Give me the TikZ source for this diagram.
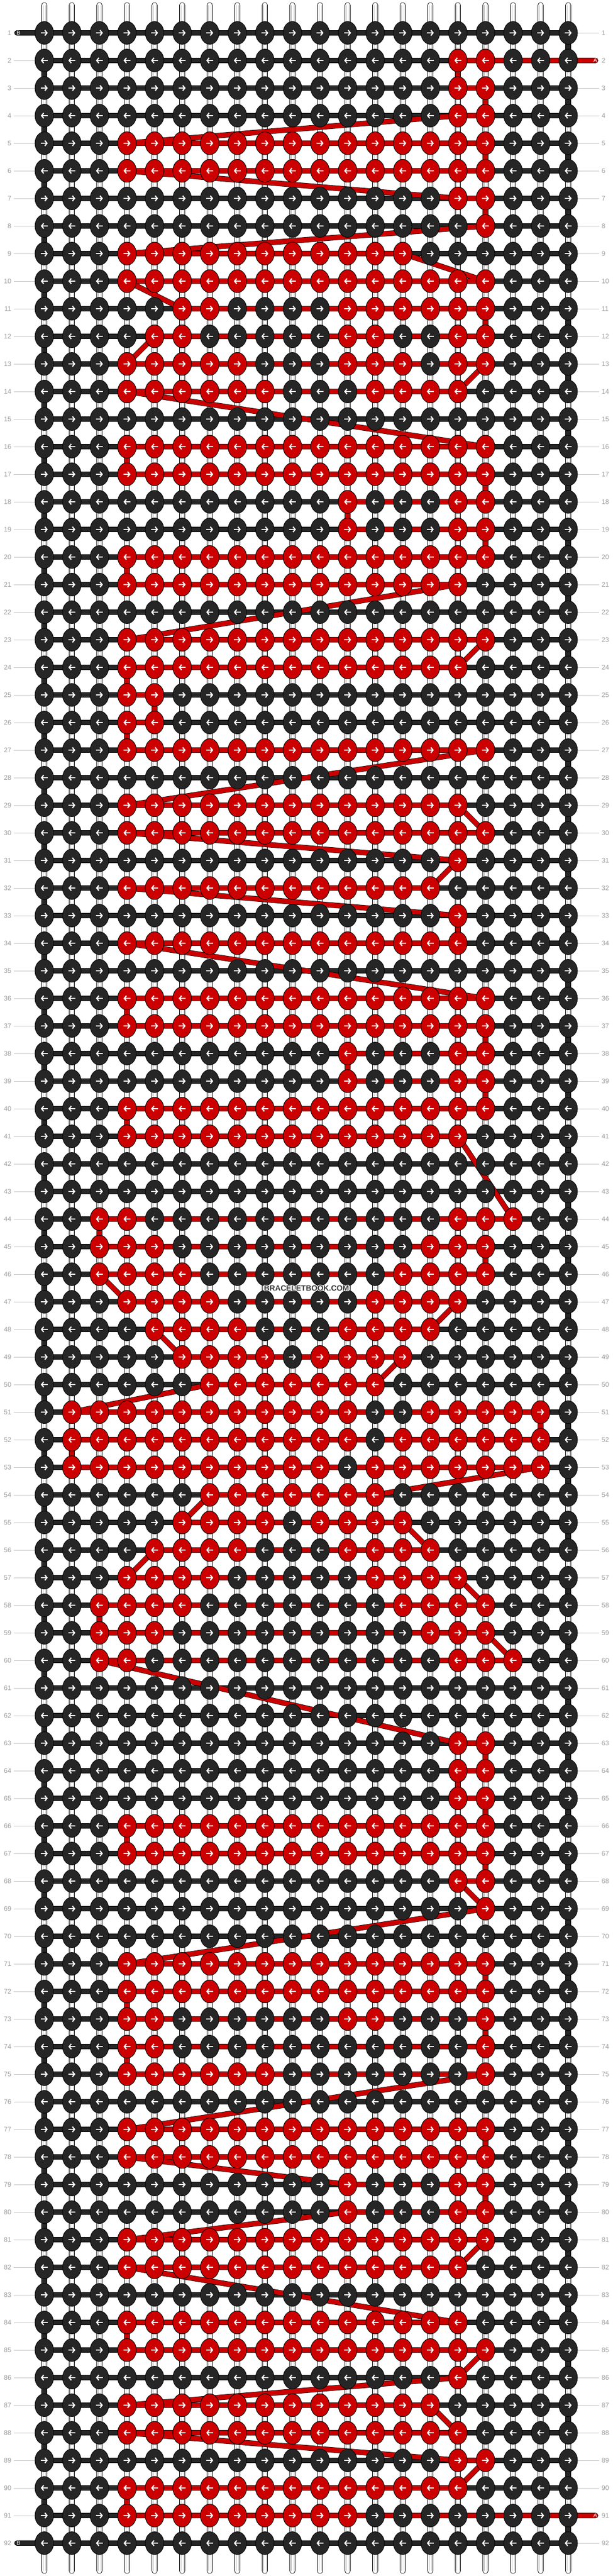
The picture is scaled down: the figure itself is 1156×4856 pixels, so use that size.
\documentclass[tikz,border=0pt]{standalone}
\usepackage{fontspec}
\setmainfont{Liberation Sans}
\usetikzlibrary{arrows.meta}
\definecolor{KnotBlack}{HTML}{262626}
\definecolor{KnotRed}{HTML}{CC0000}
\definecolor{LabelGray}{HTML}{9C9C9C}
\definecolor{LabelLine}{HTML}{C4C4C4}
\definecolor{BaseThread}{HTML}{BDBDBD}
\definecolor{MarkGray}{HTML}{383838}
\tikzset{
    blackknot/.style={draw=black, line width=0.9pt, fill=KnotBlack},
    redknot/.style={draw=black, line width=0.9pt, fill=KnotRed},
    knotarrow/.style={white, line width=2.2pt, -{Straight Barb[length=4pt, width=10pt]}},
    basestring/.style={draw=black, double=white, double distance=9.6pt, line width=0.8pt, line cap=round},
    basethread/.style={BaseThread, line width=0.7pt},
    blackstring/.style={draw=black, double=KnotBlack, double distance=8.6pt, line width=0.8pt, line join=round, line cap=round},
    redstring/.style={draw=black, double=KnotRed, double distance=8.6pt, line width=0.8pt, line join=round, line cap=round},
    labelline/.style={LabelLine, line width=1pt},
    rowlabel/.style={text=LabelGray, inner sep=0pt, font=\fontsize{12.5}{14}\selectfont},
    stringtag/.style={text=white, inner sep=0pt, font=\fontsize{10.5}{12}\selectfont},
    watermark/.style={inner sep=0pt, font=\bfseries\fontsize{14.5}{15}\selectfont}
}

\begin{document}
\begin{tikzpicture}[x=1pt, y=-1pt]
\useasboundingbox (0,0) rectangle (1156,4856);

% knot grid: 92 rows, 20 strings
\foreach \r in {1,...,92}
    \foreach \c in {1,...,20}
        \coordinate (k-\r-\c) at ({83.5+52*(\c-1)}, {62+52*(\r-1)});

% base strings
\foreach \c in {1,...,20} {
    \coordinate (top-\c) at ({83.5+52*(\c-1)}, 10);
    \coordinate (bot-\c) at ({83.5+52*(\c-1)}, 4846);
    \draw[basestring] (top-\c) -- (bot-\c);
    \draw[basethread] ([xshift=-2.4pt]top-\c) -- ([xshift=-2.4pt]bot-\c);
    \draw[basethread] ([xshift=2.4pt]top-\c) -- ([xshift=2.4pt]bot-\c);
}

% row numbers
\foreach \r in {1,...,92} {
    \node[rowlabel, anchor=east] (ll-\r) at (21.5, {62+52*(\r-1)}) {\r};
    \node[rowlabel, anchor=west] (rl-\r) at (1134.5, {62+52*(\r-1)}) {\r};
}
\foreach \r in {2,...,91}
    \draw[labelline] ([xshift=4.5pt]ll-\r.east) -- (k-\r-1);
\foreach \r in {1,...,92} {
    \ifnum\r=2 \else\ifnum\r=91 \else
        \draw[labelline] (k-\r-20) -- ([xshift=-4.5pt]rl-\r.west);
    \fi\fi
}

% string ends
\coordinate (bstart) at (32, 62);
\coordinate (bend) at (32, 4794);
\coordinate (astart) at (1123, 114);
\coordinate (aend) at (1123, 4742);

% string B (black) runs every row
\draw[blackstring] (bstart)
    \foreach \r [evaluate=\r as \s using int(\r+1)] in {1,3,...,91} {
        -- (k-\r-1) -- (k-\r-20) -- (k-\s-20) -- (k-\s-1)
    } -- (bend);

% string A (red): first and last red knot of each row
\draw[redstring] (astart)
    \foreach \p in {2-17,2-16,3-16,3-17,4-17,4-16,5-4,5-17,6-17,6-4,7-16,7-17,8-17,
        9-4,9-14,10-17,10-4,11-6,11-17,12-17,12-5,13-4,13-17,14-16,14-4,16-17,16-4,
        17-4,17-17,18-17,18-12,19-12,19-17,20-17,20-4,21-4,21-16,23-4,23-17,24-16,24-4,
        25-4,25-5,26-5,26-4,27-4,27-17,29-4,29-16,30-17,30-4,31-16,32-15,32-4,33-16,
        34-16,34-4,36-17,36-4,37-4,37-17,38-17,38-12,39-12,39-17,40-17,40-4,41-4,41-16,
        44-18,44-3,45-3,45-17,46-17,46-3,47-4,47-16,48-15,48-5,49-6,49-14,50-13,50-7,
        51-2,51-19,52-19,52-2,53-2,53-19,54-13,54-7,55-6,55-14,56-15,56-5,57-4,57-16,
        58-17,58-3,59-3,59-17,60-18,60-3,63-16,63-17,64-17,64-16,65-16,65-17,66-17,66-4,
        67-4,67-17,68-17,68-16,69-17,71-4,71-17,72-17,72-4,73-4,73-17,74-17,74-4,75-4,75-17,
        77-4,77-17,78-17,78-4,79-12,79-17,80-17,80-12,81-4,81-17,82-16,82-4,84-16,84-4,
        85-4,85-17,86-16,87-4,87-15,88-16,88-4,89-16,89-17,90-16,90-4,91-4,91-12} {
        -- (k-\p)
    } -- (aend);

% knots
\foreach \r in {1,...,92}
    \foreach \c in {1,...,20}
        \draw[blackknot] (k-\r-\c) ellipse [x radius=17.5pt, y radius=21.5pt];
\foreach \r/\cs in {2/{16,17},3/{16,17},4/{16,17},5/{4,...,17},6/{4,...,17},7/{16,17},8/{17},
        9/{4,...,14},10/{4,...,17},11/{6,7},11/{12,...,17},12/{5,6,12,13,16,17},13/{4,...,8},
        13/{12,13,14,16,17},14/{4,...,9},14/{13,...,16},16/{4,...,17},17/{4,...,17},
        18/{12,16,17},19/{12,16,17},20/{4,...,17},21/{4,...,16},23/{4,...,17},24/{4,...,16},
        25/{4,5},26/{4,5},27/{4,...,17},29/{4,...,16},30/{4,...,17},31/{16},32/{4,...,15},
        33/{16},34/{4,...,16},36/{4,...,17},37/{4,...,17},38/{12,16,17},39/{12,16,17},
        40/{4,...,17},41/{4,...,16},44/{3,4,16,17,18},45/{3,4,5,15,16,17},46/{3,...,6},
        46/{14,...,17},47/{4,...,7},47/{13,...,16},48/{5,...,8},48/{12,...,15},49/{6,...,9},
        49/{11,...,14},50/{7,...,13},51/{2,...,12},51/{15,...,19},52/{2,...,12},52/{14,...,19},
        53/{2,...,11},53/{13,...,19},54/{7,...,13},55/{6,...,9},55/{11,...,14},56/{5,...,8},
        56/{12,...,15},57/{4,...,7},57/{13,...,16},58/{3,...,6},58/{14,...,17},
        59/{3,4,5,15,16,17},60/{3,4,16,17,18},63/{16,17},64/{16,17},65/{16,17},66/{4,...,17},
        67/{4,...,17},68/{16,17},69/{17},71/{4,...,17},72/{4,...,17},73/{4,5,12,13,17},
        74/{4,5,17},75/{4,...,9},75/{17},77/{4,...,17},78/{4,...,17},79/{12,16,17},
        80/{12,16,17},81/{4,...,17},82/{4,...,16},84/{4,...,16},85/{4,...,17},86/{16},
        87/{4,...,15},88/{4,...,16},89/{16,17},90/{4,...,16},91/{4,...,12}}
    \foreach \c in \cs
        \draw[redknot] (k-\r-\c) ellipse [x radius=17.5pt, y radius=21.5pt];

% knot directions: odd rows go right, even rows go left
\foreach \r in {1,3,...,91}
    \foreach \c in {1,...,20}
        \draw[knotarrow] (k-\r-\c) ++(-6.5,0) -- ++(13,0);
\foreach \r in {2,4,...,92}
    \foreach \c in {1,...,20}
        \draw[knotarrow] (k-\r-\c) ++(6.5,0) -- ++(-13,0);

% string tags
\node[stringtag] (tagB1) at (bstart) [xshift=3pt] {B};
\node[stringtag] (tagB2) at (bend) [xshift=3pt] {B};
\node[stringtag] (tagA1) at (astart) [xshift=-0.5pt] {A};
\node[stringtag] (tagA2) at (aend) [xshift=-0.5pt] {A};

% watermark
\foreach \dx/\dy in {-1/0,1/0,0/-1,0/1,-1/-1,1/1,-1/1,1/-1}
    \node[watermark, text=white] at ({578+\dx}, {2428+\dy}) {BRACELETBOOK.COM};
\node[watermark, text=MarkGray] (mark) at (578, 2428) {BRACELETBOOK.COM};

\end{tikzpicture}
\end{document}
